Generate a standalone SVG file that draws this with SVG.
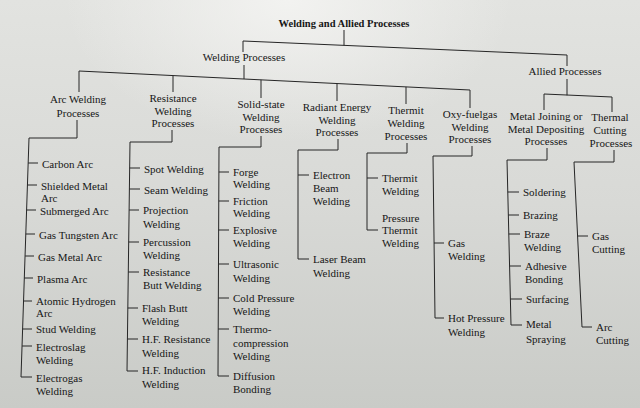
<svg xmlns="http://www.w3.org/2000/svg" width="640" height="408" viewBox="0 0 640 408">
<defs>
<linearGradient id="bg" x1="0" y1="0" x2="0" y2="1">
<stop offset="0" stop-color="#e2e3e0"/>
<stop offset="0.5" stop-color="#d8d9d6"/>
<stop offset="1" stop-color="#c9cbc7"/>
</linearGradient>
<radialGradient id="glow" cx="0.45" cy="0" r="0.35">
<stop offset="0" stop-color="#f4f4f2" stop-opacity="0.9"/>
<stop offset="1" stop-color="#f4f4f2" stop-opacity="0"/>
</radialGradient>
</defs>
<style>
text{font-size:11px;fill:#161616}
.hd{text-anchor:middle}
.ttl{font-weight:bold;font-size:10.5px}
#connectors path,#connectors line{stroke:#262626;stroke-width:1;fill:none}
</style>
<rect x="0" y="0" width="640" height="408" fill="url(#bg)"/>
<rect x="0" y="0" width="640" height="408" fill="url(#glow)"/>

<g id="connectors">
<line x1="344" y1="30" x2="344" y2="45.4"/>
<path d="M243,52 V41 L567,55 V66"/>
<line x1="244" y1="65" x2="244" y2="79"/>
<path d="M79,92 V71 L470,90 V108"/>
<line x1="173" y1="75.6" x2="173" y2="92"/>
<line x1="261" y1="79.8" x2="261" y2="98"/>
<line x1="337" y1="83.5" x2="337" y2="101"/>
<line x1="406" y1="86.9" x2="406" y2="104"/>
<line x1="567" y1="79" x2="567" y2="95.3"/>
<path d="M544,110 V94 L612,97 V112"/>
<path d="M77,120 V138 L29,138 L21,377 L32,377"/>
<line x1="28.2" y1="163" x2="38" y2="163"/>
<line x1="27.4" y1="185" x2="37" y2="185"/>
<line x1="26.6" y1="210" x2="36" y2="210"/>
<line x1="25.8" y1="234" x2="35" y2="234"/>
<line x1="25.1" y1="256" x2="34" y2="256"/>
<line x1="24.3" y1="278" x2="33" y2="278"/>
<line x1="23.5" y1="301" x2="32" y2="301"/>
<line x1="22.6" y1="329" x2="32" y2="329"/>
<line x1="22.1" y1="346" x2="32" y2="346"/>
<path d="M172,130 V142 L130,142 L127,371 L138,371"/>
<line x1="129.7" y1="168" x2="140" y2="168"/>
<line x1="129.4" y1="189" x2="140" y2="189"/>
<line x1="129.1" y1="210" x2="139" y2="210"/>
<line x1="128.7" y1="242" x2="139" y2="242"/>
<line x1="128.3" y1="272" x2="139" y2="272"/>
<line x1="127.8" y1="308" x2="138" y2="308"/>
<line x1="127.4" y1="339" x2="138" y2="339"/>
<path d="M261,136 V147 L219,147 L218,376 L229,376"/>
<line x1="218.9" y1="172" x2="229" y2="172"/>
<line x1="218.8" y1="201" x2="229" y2="201"/>
<line x1="218.6" y1="230" x2="229" y2="230"/>
<line x1="218.5" y1="264" x2="229" y2="264"/>
<line x1="218.3" y1="298" x2="229" y2="298"/>
<line x1="218.2" y1="329" x2="229" y2="329"/>
<path d="M338,139 V150 L298,150 L298,259 L309,259"/>
<line x1="298" y1="175" x2="309" y2="175"/>
<path d="M407,143 V153 L367,153 L367,230 L378,230"/>
<line x1="367" y1="178" x2="378" y2="178"/>
<path d="M472,146 V156 L433,156 L435,318 L444,318"/>
<line x1="434" y1="243" x2="444" y2="243"/>
<path d="M547,148 V160 L507,160 L511,325 L522,325"/>
<line x1="507.8" y1="192" x2="519" y2="192"/>
<line x1="508.3" y1="215" x2="519" y2="215"/>
<line x1="508.8" y1="234" x2="520" y2="234"/>
<line x1="509.6" y1="266" x2="521" y2="266"/>
<line x1="510.3" y1="299" x2="522" y2="299"/>
<path d="M614,150 V162 L574,162 L582,327 L592,327"/>
<line x1="577.6" y1="236" x2="588" y2="236"/>
</g>

<g font-family="Liberation Serif, Times New Roman, serif">
<g id="root"><text class="hd ttl" x="344" y="27">Welding and Allied Processes</text></g>
<g id="welding-processes"><text class="hd" x="244" y="61">Welding Processes</text></g>
<g id="allied-processes"><text class="hd" x="565" y="75">Allied Processes</text></g>

<g id="arc-welding"><text class="hd" x="78" y="103">Arc Welding<tspan x="78" dy="14">Processes</tspan></text></g>
<g id="resistance-welding"><text class="hd" x="173" y="102">Resistance<tspan x="173" dy="12.5">Welding</tspan><tspan x="173" dy="12.5">Processes</tspan></text></g>
<g id="solid-state-welding"><text class="hd" x="261" y="108">Solid-state<tspan x="261" dy="12.5">Welding</tspan><tspan x="261" dy="12.5">Processes</tspan></text></g>
<g id="radiant-energy-welding"><text class="hd" x="337" y="111">Radiant Energy<tspan x="337" dy="12.5">Welding</tspan><tspan x="337" dy="12.5">Processes</tspan></text></g>
<g id="thermit-welding"><text class="hd" x="406" y="114">Thermit<tspan x="406" dy="13">Welding</tspan><tspan x="406" dy="13">Processes</tspan></text></g>
<g id="oxy-fuelgas-welding"><text class="hd" x="470" y="118">Oxy-fuelgas<tspan x="470" dy="12.5">Welding</tspan><tspan x="470" dy="12.5">Processes</tspan></text></g>
<g id="metal-joining"><text class="hd" x="546" y="120">Metal Joining or<tspan x="546" dy="12.5">Metal Depositing</tspan><tspan x="546" dy="12.5">Processes</tspan></text></g>
<g id="thermal-cutting"><text class="hd" x="610" y="121">Thermal<tspan x="610" dy="12.5">Cutting</tspan><tspan x="611" dy="13">Processes</tspan></text></g>

<g id="arc-items">
<text x="42" y="168">Carbon Arc</text>
<text x="41" y="190">Shielded Metal<tspan x="41" dy="12">Arc</tspan></text>
<text x="40" y="215">Submerged Arc</text>
<text x="39" y="239">Gas Tungsten Arc</text>
<text x="38" y="261">Gas Metal Arc</text>
<text x="37" y="283">Plasma Arc</text>
<text x="36" y="305">Atomic Hydrogen<tspan x="36" dy="11.5">Arc</tspan></text>
<text x="36" y="333">Stud Welding</text>
<text x="36" y="351">Electroslag<tspan x="36" dy="12.5">Welding</tspan></text>
<text x="36" y="382">Electrogas<tspan x="36" dy="13">Welding</tspan></text>
</g>

<g id="resistance-items">
<text x="144" y="173">Spot Welding</text>
<text x="144" y="194">Seam Welding</text>
<text x="143" y="214">Projection<tspan x="143" dy="13.5">Welding</tspan></text>
<text x="143" y="246">Percussion<tspan x="143" dy="13">Welding</tspan></text>
<text x="143" y="276">Resistance<tspan x="143" dy="13">Butt Welding</tspan></text>
<text x="142" y="312">Flash Butt<tspan x="142" dy="13">Welding</tspan></text>
<text x="142" y="343">H.F. Resistance<tspan x="142" dy="13.5">Welding</tspan></text>
<text x="142" y="374">H.F. Induction<tspan x="142" dy="14">Welding</tspan></text>
</g>

<g id="solid-state-items">
<text x="233" y="176">Forge<tspan x="233" dy="12">Welding</tspan></text>
<text x="233" y="205">Friction<tspan x="233" dy="12">Welding</tspan></text>
<text x="233" y="234">Explosive<tspan x="233" dy="13">Welding</tspan></text>
<text x="233" y="268">Ultrasonic<tspan x="233" dy="14">Welding</tspan></text>
<text x="233" y="302">Cold Pressure<tspan x="233" dy="13">Welding</tspan></text>
<text x="233" y="333">Thermo-<tspan x="233" dy="13.5">compression</tspan><tspan x="233" dy="13">Welding</tspan></text>
<text x="233" y="380">Diffusion<tspan x="233" dy="13">Bonding</tspan></text>
</g>

<g id="radiant-items">
<text x="313" y="179">Electron<tspan x="313" dy="13">Beam</tspan><tspan x="313" dy="13">Welding</tspan></text>
<text x="313" y="263">Laser Beam<tspan x="313" dy="14">Welding</tspan></text>
</g>

<g id="thermit-items">
<text x="382" y="182">Thermit<tspan x="382" dy="13">Welding</tspan></text>
<text x="382" y="222">Pressure<tspan x="382" dy="12">Thermit</tspan><tspan x="382" dy="13">Welding</tspan></text>
</g>

<g id="oxy-fuelgas-items">
<text x="448" y="247">Gas<tspan x="448" dy="13">Welding</tspan></text>
<text x="448" y="322">Hot Pressure<tspan x="448" dy="14">Welding</tspan></text>
</g>

<g id="metal-joining-items">
<text x="523" y="196">Soldering</text>
<text x="523" y="219">Brazing</text>
<text x="524" y="238">Braze<tspan x="524" dy="13">Welding</tspan></text>
<text x="525" y="270">Adhesive<tspan x="525" dy="13">Bonding</tspan></text>
<text x="526" y="303">Surfacing</text>
<text x="526" y="328">Metal<tspan x="526" dy="15">Spraying</tspan></text>
</g>

<g id="thermal-cutting-items">
<text x="592" y="240">Gas<tspan x="592" dy="13">Cutting</tspan></text>
<text x="596" y="331">Arc<tspan x="596" dy="13">Cutting</tspan></text>
</g>
</g>
</svg>
